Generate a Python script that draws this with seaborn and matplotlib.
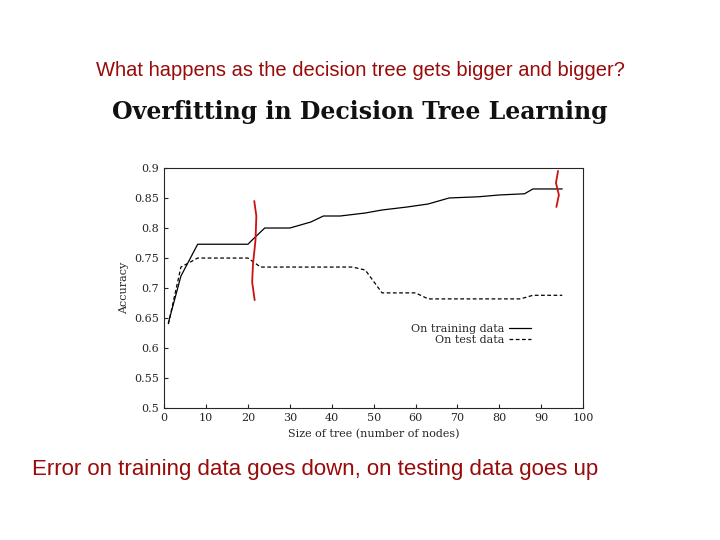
import matplotlib
matplotlib.use("Agg")
import matplotlib.pyplot as plt
import seaborn as sns
import pandas as pd

sns.set_style("ticks")
plt.rcParams['font.family'] = ['DejaVu Serif']

train_x = [1, 4, 8, 12, 20, 21, 24, 30, 35, 38, 42, 48, 52, 58, 63, 68, 75, 80, 86, 88, 95]
train_y = [0.642, 0.72, 0.773, 0.773, 0.773, 0.78, 0.80, 0.80, 0.81, 0.82, 0.82, 0.825, 0.83, 0.835, 0.84, 0.85, 0.852, 0.855, 0.857, 0.865, 0.865]
test_x = [1, 4, 8, 12, 20, 23, 30, 45, 48, 52, 60, 63, 75, 85, 88, 95]
test_y = [0.64, 0.735, 0.75, 0.75, 0.75, 0.735, 0.735, 0.735, 0.73, 0.692, 0.692, 0.682, 0.682, 0.682, 0.688, 0.688]
red_mark1_x = [21.5, 22.0, 21.8, 21.2, 21.0, 21.6]
red_mark1_y = [0.845, 0.82, 0.78, 0.74, 0.71, 0.68]
red_mark2_x = [94.0, 93.5, 94.2, 93.6]
red_mark2_y = [0.895, 0.875, 0.855, 0.835]

df = pd.concat([
    pd.DataFrame({"x": train_x, "y": train_y, "s": "On training data"}),
    pd.DataFrame({"x": test_x, "y": test_y, "s": "On test data"}),
])

fig = plt.figure(figsize=(7.2, 5.4), dpi=100)
ax = fig.add_axes([0.228, 0.244, 0.582, 0.445])
sns.lineplot(data=df, x="x", y="y", style="s", color="black", lw=0.9,
             dashes=[(None, None), (3, 2)], ax=ax, legend=True)
ax.plot(red_mark1_x, red_mark1_y, color="#cc1111", lw=1.3)
ax.plot(red_mark2_x, red_mark2_y, color="#cc1111", lw=1.3)
ax.set_xlim(0, 100)
ax.set_ylim(0.5, 0.9)
ax.set_xticks(range(0, 101, 10))
ax.set_yticks([0.5, 0.55, 0.6, 0.65, 0.7, 0.75, 0.8, 0.85, 0.9])
ax.set_yticklabels(["0.5", "0.55", "0.6", "0.65", "0.7", "0.75", "0.8", "0.85", "0.9"])
ax.tick_params(labelsize=8, direction="in", length=3)
for s in ax.spines.values():
    s.set_visible(True)
    s.set_linewidth(0.8)
ax.set_xlabel("Size of tree (number of nodes)", fontsize=8)
ax.set_ylabel("Accuracy", fontsize=8)
leg = ax.legend(frameon=False, fontsize=8, loc="lower right", bbox_to_anchor=(0.9, 0.22),
                markerfirst=False, handletextpad=0.4, labelspacing=0.1)
leg.set_title(None)

red = "#990a0a"
fig.text(0.5, 0.86, "What happens as the decision tree gets bigger and bigger?",
         ha="center", fontsize=14.5, family="Liberation Sans", color=red)
fig.text(0.5, 0.78, "Overfitting in Decision Tree Learning", ha="center",
         fontsize=17, fontweight="bold", family="DejaVu Serif", color="#111111")
fig.text(0.044, 0.12, "Error on training data goes down, on testing data goes up",
         ha="left", fontsize=16, family="Liberation Sans", color=red)
fig.savefig("out.png", dpi=100)
